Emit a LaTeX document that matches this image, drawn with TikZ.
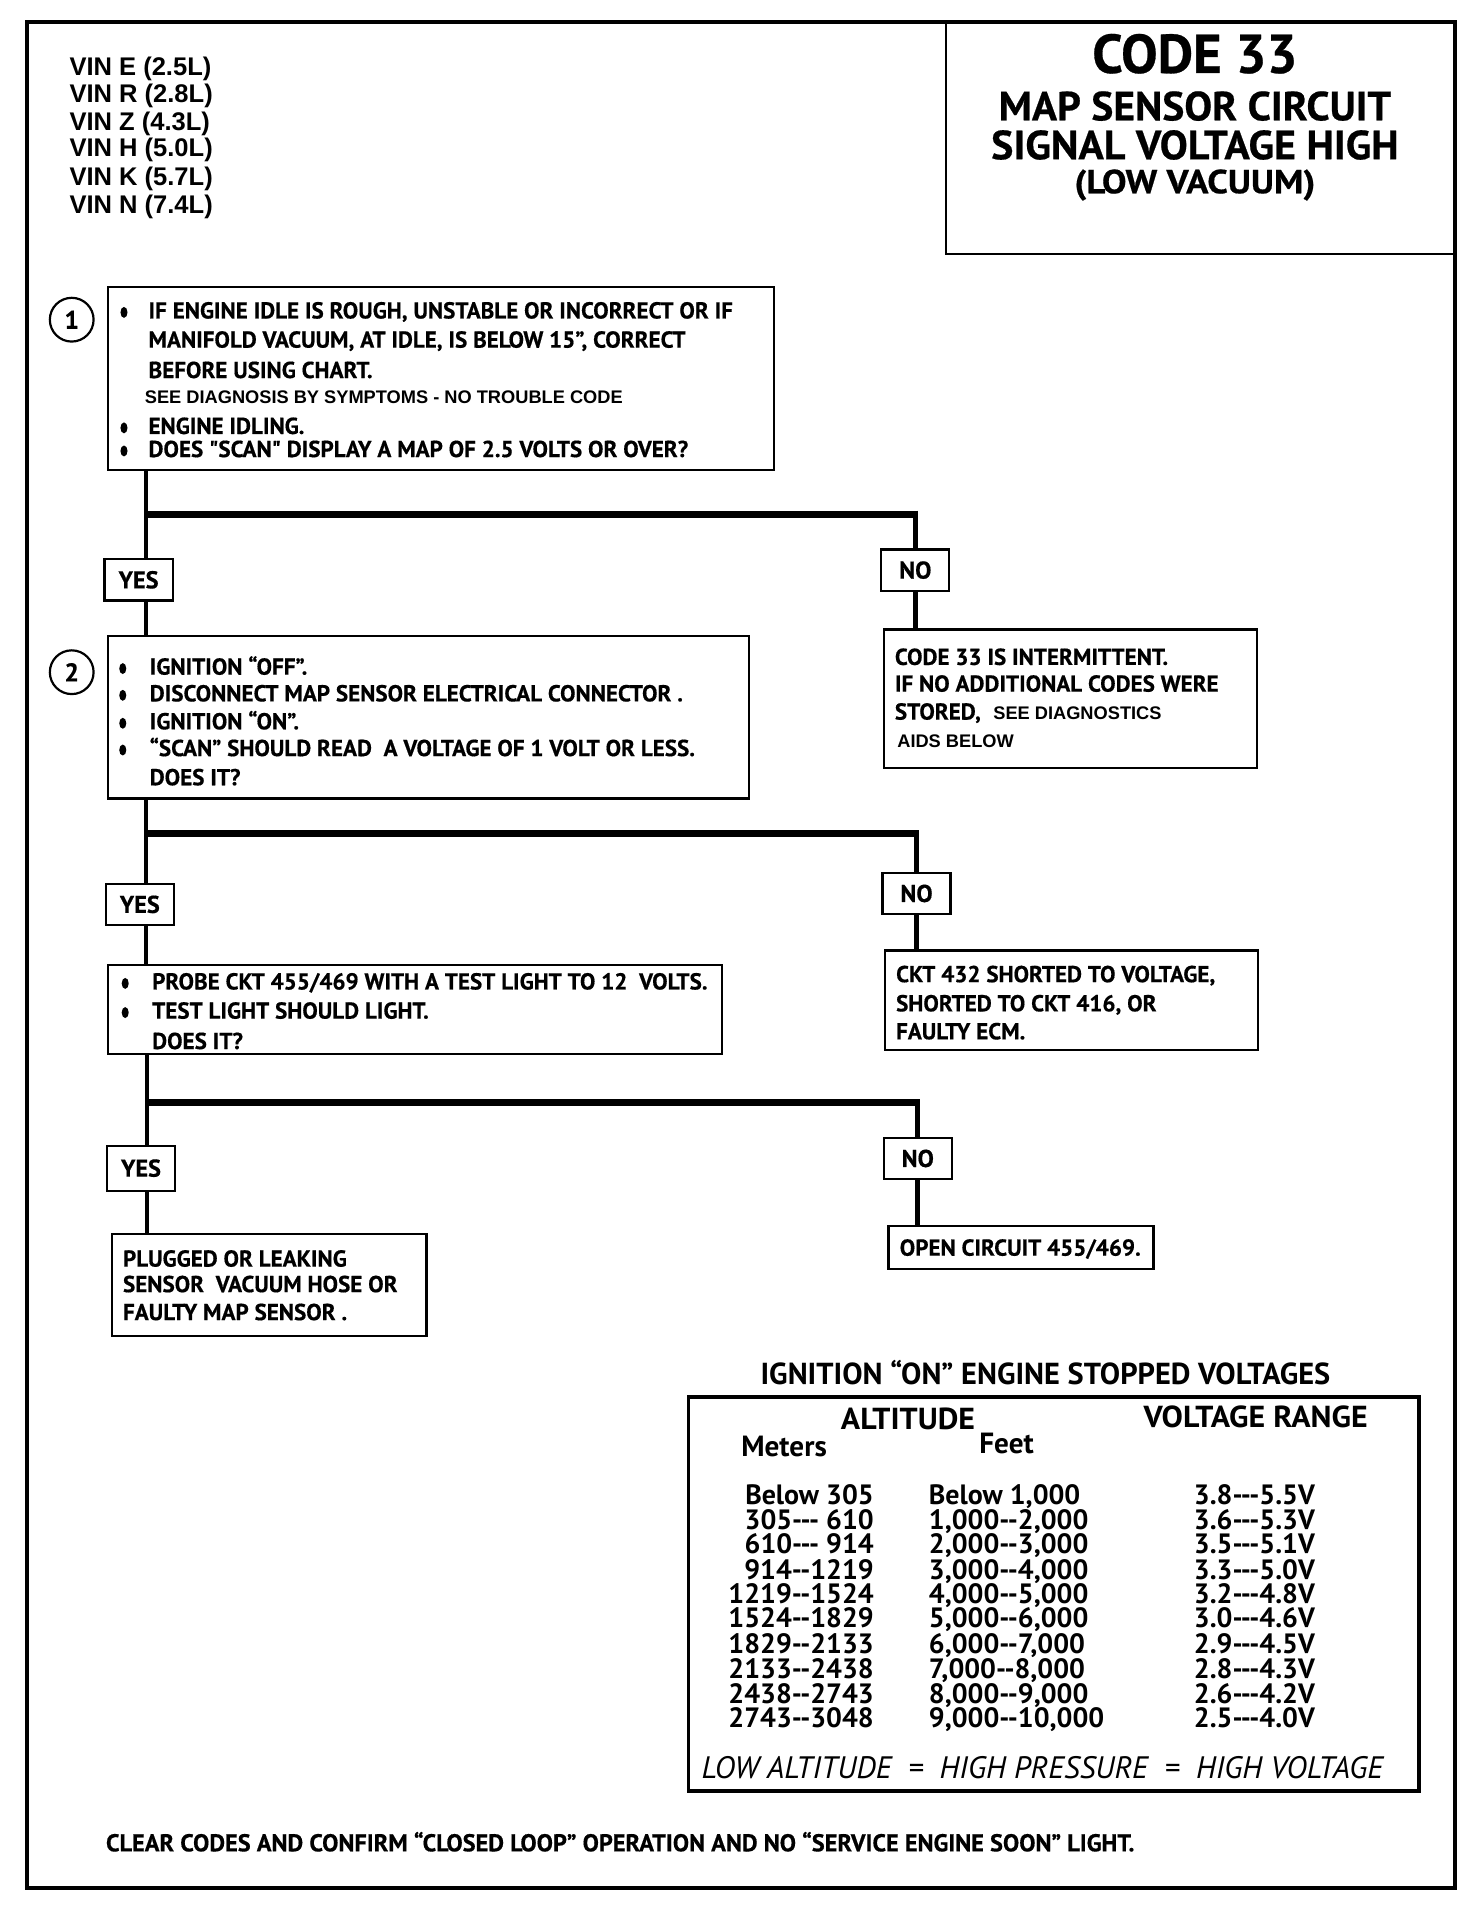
\documentclass[tikz,border=0pt]{standalone}
\usepackage{fontspec}
\setmainfont{PT Sans}
\newfontfamily\cnd[FakeBold=0.5]{PT Sans}
\newfontfamily\hel{Liberation Sans}
\newfontfamily\tbl{PT Sans}
\newfontfamily\tblw[FakeStretch=1.05]{PT Sans}
\newcommand\tl[4]{\node[txt] (#1) at (#2,#3) {#4};}
\newcommand\bul[2]{\fill (#1,#2) ellipse [x radius=2.9pt, y radius=4.5pt];}
\begin{document}
\begin{tikzpicture}[x=1pt,y=-1pt,
  box/.style={draw, line width=1.8pt, inner sep=0, anchor=north west},
  yn/.style={draw, line width=1.8pt, minimum width=56pt, minimum height=34pt, inner sep=0, font=\cnd\bfseries\fontsize{20}{20}\selectfont},
  txt/.style={anchor=base west, inner sep=0, font=\cnd\bfseries\fontsize{19}{19}\selectfont},
  stxt/.style={txt, font=\hel\bfseries\fontsize{15}{15}\selectfont},
  vin/.style={anchor=base west, inner sep=0, font=\hel\bfseries\fontsize{21}{21}\selectfont},
  ttl/.style={anchor=base, inner sep=0},
  num/.style={draw, circle, line width=1.8pt, minimum size=36pt, inner sep=0, font=\cnd\bfseries\fontsize{21}{21}\selectfont},
  trunk/.style={line width=3.8pt},
  branch/.style={line width=5.8pt},
  row/.style={inner sep=0, font=\tbl\bfseries\fontsize{23}{23}\selectfont},
  hdr/.style={inner sep=0, anchor=base, font=\tblw\bfseries\fontsize{25}{25}\selectfont}
]
\useasboundingbox (0,0) rectangle (1211,1568);
% frame
\draw[line width=3.5pt] (22,18) rectangle (1197,1553);
\node[box, line width=2pt, minimum width=420pt, minimum height=190pt] (tb) at (777,18) {};
\node[ttl, font=\cnd\bfseries\fontsize{45}{45}\selectfont] (t1) at (983,60) {CODE 33};
\node[ttl, font=\cnd\bfseries\fontsize{33.5}{33.5}\selectfont] (t2) at (983,99) {\scalebox{1.02}[1]{MAP SENSOR CIRCUIT}};
\node[ttl, font=\cnd\bfseries\fontsize{33.5}{33.5}\selectfont] (t3) at (983,131) {\scalebox{1.03}[1]{SIGNAL VOLTAGE HIGH}};
\node[ttl, font=\cnd\bfseries\fontsize{27.5}{27.5}\selectfont] (t4) at (983,159) {\scalebox{1.1}[1]{(LOW VACUUM)}};
% VIN
\node[vin] (v1) at (57,62) {VIN E (2.5L)};
\node[vin] (v2) at (57,84) {VIN R (2.8L)};
\node[vin] (v3) at (57,107) {VIN Z (4.3L)};
\node[vin] (v4) at (57,129) {VIN H (5.0L)};
\node[vin] (v5) at (57,153) {VIN K (5.7L)};
\node[vin] (v6) at (57,176) {VIN N (7.4L)};
% step 1
\node[num] (n1) at (59,263) {1};
\node[box, minimum width=548pt, minimum height=151pt] (b1) at (88,235) {};
\bul{102}{257}\tl{b1a}{122}{262}{IF ENGINE IDLE IS ROUGH, UNSTABLE OR INCORRECT OR IF}
\tl{b1b}{122}{286}{MANIFOLD VACUUM, AT IDLE, IS BELOW 15”, CORRECT}
\tl{b1c}{122}{311}{BEFORE USING CHART.}
\node[stxt] (b1d) at (119,332) {SEE DIAGNOSIS BY SYMPTOMS - NO TROUBLE CODE};
\bul{102}{352}\tl{b1e}{122}{357}{ENGINE IDLING.}
\bul{102}{371}\tl{b1f}{122}{376}{DOES "SCAN" DISPLAY A MAP OF 2.5 VOLTS OR OVER?}
\node[yn] (yes1) at (114,477) {YES};
\node[yn] (no1) at (753,469) {NO};
\node[box, minimum width=307pt, minimum height=114pt] (r1) at (726,517) {};
\tl{r1a}{736}{547}{CODE 33 IS INTERMITTENT.}
\tl{r1b}{736}{569}{IF NO ADDITIONAL CODES WERE}
\tl{r1c}{736}{592}{STORED,}
\node[stxt] (r1d) at (817,592) {SEE DIAGNOSTICS};
\node[stxt] (r1e) at (738,615) {AIDS BELOW};
% step 2
\node[num] (n2) at (59,553) {2};
\node[box, minimum width=527pt, minimum height=134pt] (b2) at (88,522) {};
\bul{101}{550}\tl{b2a}{123}{555}{IGNITION “OFF”.}
\bul{101}{572}\tl{b2b}{123}{577}{DISCONNECT MAP SENSOR ELECTRICAL CONNECTOR .}
\bul{101}{595}\tl{b2c}{123}{600}{IGNITION “ON”.}
\bul{101}{617}\tl{b2d}{123}{622}{“SCAN” SHOULD READ\ \ A VOLTAGE OF 1 VOLT OR LESS.}
\tl{b2e}{123}{646}{DOES IT?}
\node[yn] (yes2) at (115,744) {YES};
\node[yn] (no2) at (754,735) {NO};
\node[box, minimum width=307pt, minimum height=82pt] (r2) at (727,781) {};
\tl{r2a}{737}{808}{CKT 432 SHORTED TO VOLTAGE,}
\tl{r2b}{737}{832}{SHORTED TO CKT 416, OR}
\tl{r2c}{737}{855}{FAULTY ECM.}
% step 3
\node[box, minimum width=505pt, minimum height=73pt] (b3) at (88,793) {};
\bul{103}{809}\tl{b3a}{125}{814}{PROBE CKT 455/469 WITH A TEST LIGHT TO 12\ \ VOLTS.}
\bul{103}{833}\tl{b3b}{125}{838}{TEST LIGHT SHOULD LIGHT.}
\tl{b3c}{125}{863}{DOES IT?}
\node[yn, minimum height=37pt] (yes3) at (116,961) {YES};
\node[yn] (no3) at (755,953) {NO};
\node[box, minimum width=218pt, minimum height=35pt] (r3) at (730,1008) {};
\tl{r3a}{740}{1033}{OPEN CIRCUIT 455/469.}
\node[box, minimum width=259pt, minimum height=84pt] (b4) at (91,1014) {};
\tl{b4a}{101}{1042}{PLUGGED OR LEAKING}
\tl{b4b}{101}{1063}{SENSOR\ \ VACUUM HOSE OR}
\tl{b4c}{101}{1086}{FAULTY MAP SENSOR .}
% connectors
\coordinate (j1) at (120,423);
\coordinate (j2) at (120,686);
\coordinate (j3) at (121,907);
\draw[trunk] (b1.south -| j1) -- (yes1.north -| j1);
\draw[trunk] (yes1.south -| j1) -- (b2.north -| j1);
\draw[branch] (j1) -- (j1 -| no1.north);
\draw[trunk] ([yshift=2.9pt]j1 -| no1.north) -- (no1.north);
\draw[trunk] (no1.south) -- (r1.north -| no1.south);
\draw[trunk] (b2.south -| j2) -- (yes2.north -| j2);
\draw[trunk] (yes2.south -| j2) -- (b3.north -| j2);
\draw[branch] (j2) -- (j2 -| no2.north);
\draw[trunk] ([yshift=2.9pt]j2 -| no2.north) -- (no2.north);
\draw[trunk] (no2.south) -- (r2.north -| no2.south);
\draw[trunk] (b3.south -| j3) -- (yes3.north -| j3);
\draw[trunk] (yes3.south -| j3) -- (b4.north -| j3);
\draw[branch] (j3) -- (j3 -| no3.north);
\draw[trunk] ([yshift=2.9pt]j3 -| no3.north) -- (no3.north);
\draw[trunk] (no3.south) -- (r3.north -| no3.south);
% table
\node[ttl, font=\tbl\bfseries\fontsize{25}{25}\selectfont] (tt) at (860,1139) {IGNITION “ON” ENGINE STOPPED VOLTAGES};
\node[box, line width=2.8pt, minimum width=601pt, minimum height=324pt] (tab) at (565,1148) {};
\node[hdr] (halt) at (747,1176) {ALTITUDE};
\node[hdr] (hvr) at (1033,1174) {VOLTAGE RANGE};
\node[row, anchor=base, font=\tbl\bfseries\fontsize{24}{24}\selectfont] (hm) at (645,1198) {Meters};
\node[row, anchor=base, font=\tbl\bfseries\fontsize{24}{24}\selectfont] (hf) at (828,1196) {Feet};
\foreach \m/\f/\v/\y [count=\i] in {
 Below 305/Below 1{,}000/3.8{-}{-}{-}5.5V/1238,
 305{-}{-}{-} 610/1{,}000{-}{-}2{,}000/3.6{-}{-}{-}5.3V/1258,
 610{-}{-}{-} 914/2{,}000{-}{-}3{,}000/3.5{-}{-}{-}5.1V/1278,
 914{-}{-}1219/3{,}000{-}{-}4{,}000/3.3{-}{-}{-}5.0V/1299,
 1219{-}{-}1524/4{,}000{-}{-}5{,}000/3.2{-}{-}{-}4.8V/1319,
 1524{-}{-}1829/5{,}000{-}{-}6{,}000/3.0{-}{-}{-}4.6V/1339,
 1829{-}{-}2133/6{,}000{-}{-}7{,}000/2.9{-}{-}{-}4.5V/1360,
 2133{-}{-}2438/7{,}000{-}{-}8{,}000/2.8{-}{-}{-}4.3V/1381,
 2438{-}{-}2743/8{,}000{-}{-}9{,}000/2.6{-}{-}{-}4.2V/1401,
 2743{-}{-}3048/9{,}000{-}{-}10{,}000/2.5{-}{-}{-}4.0V/1421}{
 \node[row, anchor=base east] (m\i) at (719,\y) {\m};
 \node[row, anchor=base west] (f\i) at (764,\y) {\f};
 \node[row, anchor=base west] (vr\i) at (982,\y) {\v};
}
\node[anchor=base west, inner sep=0, font=\tbl\itshape\fontsize{25.5}{25.5}\selectfont] (law) at (577,1463) {LOW ALTITUDE\ \ =\ \ HIGH PRESSURE\ \ =\ \ HIGH VOLTAGE};
% footer
\node[txt, font=\cnd\bfseries\fontsize{20}{20}\selectfont] (ft) at (87,1523) {CLEAR CODES AND CONFIRM “CLOSED LOOP” OPERATION AND NO “SERVICE ENGINE SOON” LIGHT.};
\end{tikzpicture}
\end{document}
